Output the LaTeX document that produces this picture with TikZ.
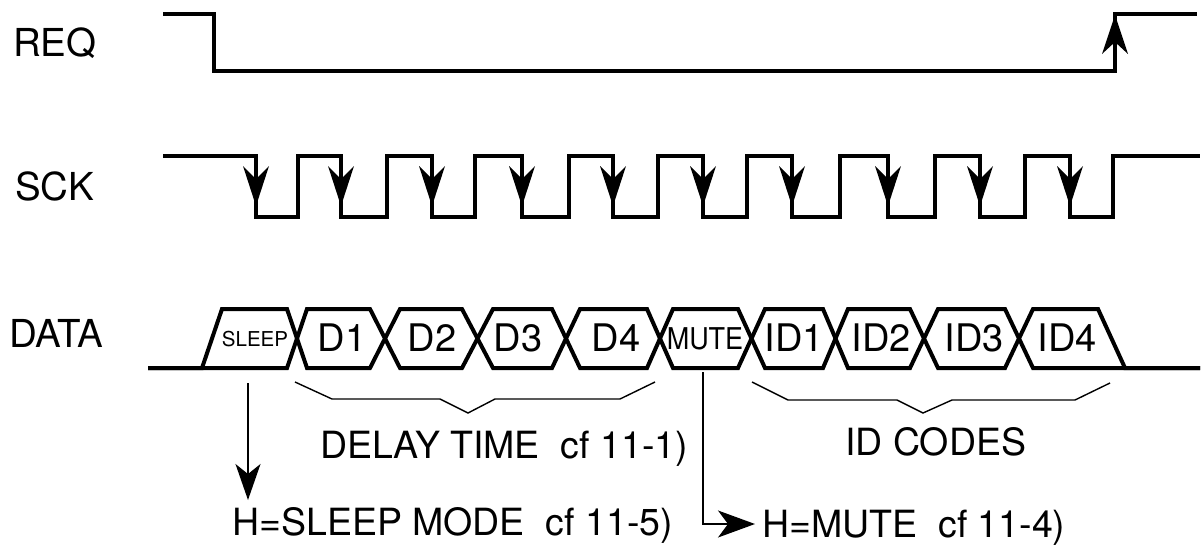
\documentclass[tikz,border=0pt]{standalone}
\usepackage{fontspec}
\setmainfont{TeX Gyre Heros}
\usetikzlibrary{arrows.meta}
\begin{document}
\begin{tikzpicture}[x=1pt,y=-1pt,
  wave/.style={line width=4pt,line join=miter,line cap=butt},
  thin/.style={line width=1.4pt},
  lbl/.style={inner sep=0pt,anchor=base west,font=\fontsize{38.5}{42}\selectfont},
  cell/.style={inner sep=0pt,anchor=base,font=\fontsize{38}{42}\selectfont},
  note/.style={inner sep=0pt,anchor=base west,font=\fontsize{37.5}{42}\selectfont},
  head/.style={-{Stealth[length=36pt,width=25pt,inset=10pt]}}]
\useasboundingbox (0,0) rectangle (1202,544);
\fill[white] (0,0) rectangle (1202,544);
% labels
\node[lbl] (req) at (13,56) {REQ};
\node[lbl] (sck) at (15,200) {SCK};
\node[lbl] (data) at (9,347) {DATA};
% REQ
\draw[wave] (163,14) -- (214,14) -- (214,71) -- (1115,71) -- (1115,14) -- (1197,14);
\fill (1115,15) -- (1102,54) -- (1115,42) -- (1128,54) -- cycle;
% SCK
\draw[wave] (163,156)
  \foreach \f/\r in {256/298,341/387,432/475,522/569,613/658,703/747,792/840,888/935,980/1025,1070/1113}
  { -- (\f,156) -- (\f,217) -- (\r,217) -- (\r,156) } -- (1200,156);
\foreach \f in {256,341,432,522,613,703,792,888,980,1070}
  \fill (\f,206) -- (\f-13,166) -- (\f,179) -- (\f+13,166) -- cycle;
% DATA
\draw[wave] (148,368) -- (202,368) -- (222,309) -- (287,309) -- (307,368) -- (370,368)
  -- (400,309) -- (462,309) -- (493,368) -- (552,368) -- (580,309) -- (647,309)
  -- (673,368) -- (738,368) -- (765,309) -- (823,309) -- (848,368) -- (910,368)
  -- (938,309) -- (1005,309) -- (1033,368) -- (1200,368);
\draw[wave] (148,368) -- (287,368) -- (307,309) -- (370,309) -- (400,368) -- (462,368)
  -- (493,309) -- (552,309) -- (580,368) -- (647,368) -- (673,309) -- (738,309)
  -- (765,368) -- (823,368) -- (848,309) -- (910,309) -- (938,368) -- (1005,368)
  -- (1033,309) -- (1098,309) -- (1125,368) -- (1200,368);
\node[cell,font=\fontsize{20.5}{24}\selectfont] (sleep) at (255,346) {SLEEP};
\node[cell] (d1) at (342,351) {D1};
\node[cell] (d2) at (432,351) {D2};
\node[cell] (d3) at (518,351) {D3};
\node[cell] (d4) at (616,351) {D4};
\node[cell,font=\fontsize{30}{32}\selectfont,xscale=0.9] (mute) at (705,349) {MUTE};
\node[cell] (id1) at (794,351) {ID1};
\node[cell] (id2) at (881,351) {ID2};
\node[cell] (id3) at (974,351) {ID3};
\node[cell] (id4) at (1067,351) {ID4};
% braces
\draw[thin] (295,382) -- (332,399) -- (440,399) -- (468,413) -- (495,399) -- (620,399) -- (655,382);
\draw[thin] (752,382) -- (788,400) -- (897,400) -- (923,413) -- (952,400) -- (1075,400) -- (1110,383);
\node[note] (delay) at (320,458) {DELAY TIME\ \ cf 11-1)};
\node[note] (idc) at (845,455) {ID CODES};
\node[note] (hsleep) at (232,535) {H=SLEEP MODE\ \ cf 11-5)};
\node[note] (hmute) at (762,537) {H=MUTE\ \ cf 11-4)};
% connectors
\coordinate (sleepsrc) at (248,383);
\coordinate (sleepdst) at (248,500);
\coordinate (mutesrc) at (703,372);
\coordinate (mutedst) at (755,524);
\draw[thin,head] (sleepsrc) -- (sleepdst);
\draw[thin,-{Stealth[length=37pt,width=27pt,inset=10pt]}] (mutesrc) |- (mutedst);
\end{tikzpicture}
\end{document}
